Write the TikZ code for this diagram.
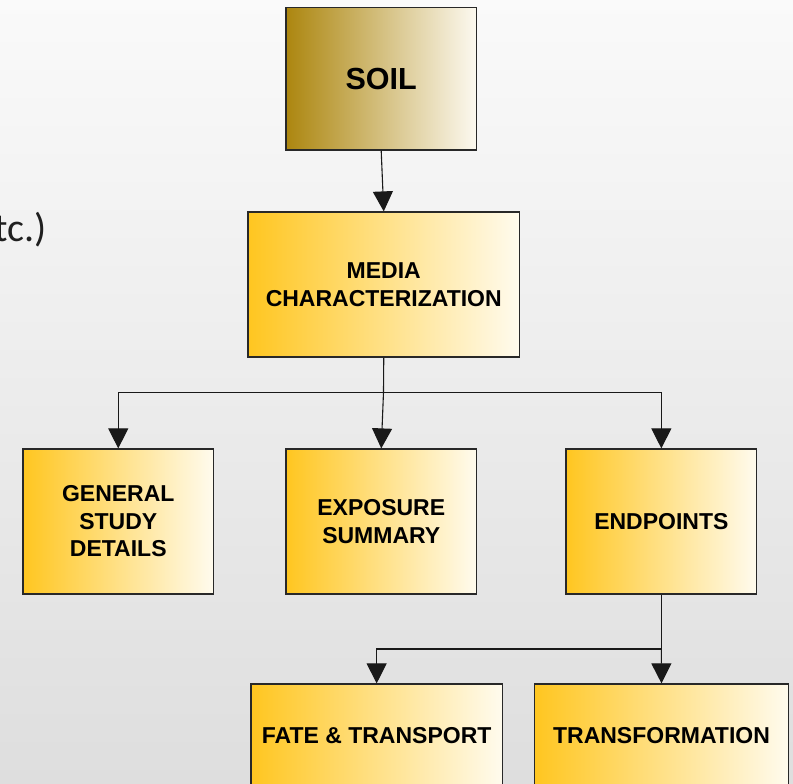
\documentclass[tikz,border=0pt]{standalone}
\usepackage{fontspec}
\setmainfont{Liberation Sans}
\newfontfamily\calib{Carlito}
\usetikzlibrary{arrows.meta}
\definecolor{boxL}{RGB}{255,198,32}
\definecolor{boxR}{RGB}{255,251,238}
\definecolor{soilL}{RGB}{172,134,15}
\definecolor{soilR}{RGB}{252,249,240}
\definecolor{bgTop}{RGB}{250,250,250}
\definecolor{bgBot}{RGB}{222,222,222}
\definecolor{edge}{RGB}{40,40,40}
\tikzset{
  box/.style={draw=edge, line width=1.2pt, left color=boxL, right color=boxR,
    inner sep=0pt, align=center, font=\fontsize{23}{27.5}\selectfont\bfseries},
  soilbox/.style={box, left color=soilL, right color=soilR,
    font=\fontsize{30.5}{34}\selectfont\bfseries},
  conn/.style={draw=black!90, line width=1.1pt},
  arr/.style={conn, -{Triangle[width=20pt,length=20pt]}}
}
\begin{document}
\begin{tikzpicture}[x=1pt,y=-1pt]
\useasboundingbox (0,0) rectangle (793,784);
\clip (0,0) rectangle (793,784);
\fill[top color=bgTop, bottom color=bgBot] (0,0) rectangle (793,784);

\node[anchor=base east, inner sep=0pt, font=\calib\fontsize{40}{44}\selectfont, text=black!88] (etc) at (47,241) {etc.)};

\node[soilbox, minimum width=190.5pt, minimum height=142.5pt] (soil) at (381.2,78.8) {SOIL};
\node[box, minimum width=271.5pt, minimum height=145pt] (media) at (383.75,284.5) {MEDIA\\CHARACTERIZATION};
\node[box, minimum width=190.5pt, minimum height=145pt] (general) at (118.25,521.5) {GENERAL\\STUDY\\DETAILS};
\node[box, minimum width=190.5pt, minimum height=145pt] (exposure) at (381.25,521.5) {EXPOSURE\\SUMMARY};
\node[box, minimum width=190.7pt, minimum height=145pt] (endpoints) at (661.35,521.5) {ENDPOINTS};
\node[box, minimum width=251.3pt, minimum height=104pt] (fate) at (376.65,736) {FATE \& TRANSPORT};
\node[box, minimum width=254pt, minimum height=104pt] (transf) at (661.5,736) {TRANSFORMATION};

\coordinate (j1) at (383.5,392.3);
\coordinate (j2) at (661.35,649);

\draw[arr] (soil.south) -- (media.north);
\draw[conn] (media.south) -- (j1);
\draw[arr] (j1) -| (general.north);
\draw[arr] (j1) -| (endpoints.north);
\draw[arr] (j1) -- (exposure.north);
\draw[conn] (endpoints.south) -- (j2);
\draw[arr] (j2) -| (fate.north);
\draw[arr] (j2) -- (transf.north);
\end{tikzpicture}
\end{document}
